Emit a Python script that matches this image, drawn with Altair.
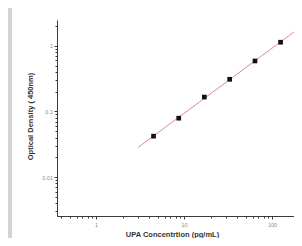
import altair as alt
import pandas as pd

# Data
conc = [4.5, 8.7, 17.0, 33.0, 64.0, 125.0]
od = [0.042, 0.079, 0.166, 0.31, 0.59, 1.14]
fit_extent = [3.0, 300.0]

x_major = [1, 10, 100]
x_ticks = [0.4, 0.5, 0.6, 0.7, 0.8, 0.9, 1, 2, 3, 4, 5, 6, 7, 8, 9,
           10, 20, 30, 40, 50, 60, 70, 80, 90, 100, 200]
y_major = [0.01, 0.1, 1]
y_ticks = [0.003, 0.004, 0.005, 0.006, 0.007, 0.008, 0.009,
           0.01, 0.02, 0.03, 0.04, 0.05, 0.06, 0.07, 0.08, 0.09,
           0.1, 0.2, 0.3, 0.4, 0.5, 0.6, 0.7, 0.8, 0.9, 1, 2]

df = pd.DataFrame({"conc": conc, "od": od})

FONT = "Liberation Sans"
AX = "#3a3a3a"

x_scale = alt.Scale(type="log", domain=[0.36, 177.6], nice=False)
y_scale = alt.Scale(type="log", domain=[0.00254, 2.49], nice=False)

x_axis = alt.Axis(
    values=x_ticks, format="~g",
    labelExpr="indexof([1,10,100], datum.value) >= 0 ? datum.label : ''",
    tickSize={"condition": {"test": "indexof([1,10,100], datum.value) >= 0", "value": 3}, "value": 2},
    title="UPA Concentrtion (pg/mL)", titleX=115, titleY=18.5,
    titleAlign="center", titleBaseline="middle",
    grid=False, labelFlush=False, labelOverlap=False, labelPadding=3,
)
y_axis = alt.Axis(
    values=y_ticks, format="~g",
    labelExpr="indexof([0.01,0.1,1], datum.value) >= 0 ? datum.label : ''",
    tickSize={"condition": {"test": "indexof([0.01,0.1,1], datum.value) >= 0", "value": 3}, "value": 2},
    title="Optical Density ( 450nm)", titleX=-26.5, titleY=96, titleAngle=-90,
    titleAlign="center", titleBaseline="middle",
    grid=False, labelFlush=False, labelOverlap=False, labelPadding=1.5,
)

base = alt.Chart(df)

line = base.transform_regression(
    "conc", "od", method="pow", extent=fit_extent
).mark_line(color="#d98a8a", strokeWidth=1, clip=True).encode(
    x=alt.X("conc:Q", scale=x_scale, axis=x_axis),
    y=alt.Y("od:Q", scale=y_scale, axis=y_axis),
)

pts = base.mark_square(color="#111111", size=22, opacity=1).encode(
    x=alt.X("conc:Q", scale=x_scale),
    y=alt.Y("od:Q", scale=y_scale),
)

strip = alt.Chart(alt.Data(values=[{"a": 1}])).mark_rect(color="#d4d4d4").encode(
    x=alt.value(-49), x2=alt.value(-45), y=alt.value(-12), y2=alt.value(230)
)

chart = alt.layer(strip, line, pts).properties(
    width=237, height=196,
    background="white",
    autosize=alt.AutoSizeParams(type="none"),
    padding={"left": 49, "top": 12, "right": 0, "bottom": 22},
).configure_view(stroke=None).configure_axis(
    domainColor=AX, tickColor=AX, domainWidth=1, tickWidth=1,
    labelFont=FONT, labelFontSize=5.5, labelColor="#8a8a8a",
    titleFont=FONT, titleFontSize=7.5, titleFontWeight="bold", titleColor="#333333",
)

chart.save("out.html", embed_options={"renderer": "svg", "actions": False})
